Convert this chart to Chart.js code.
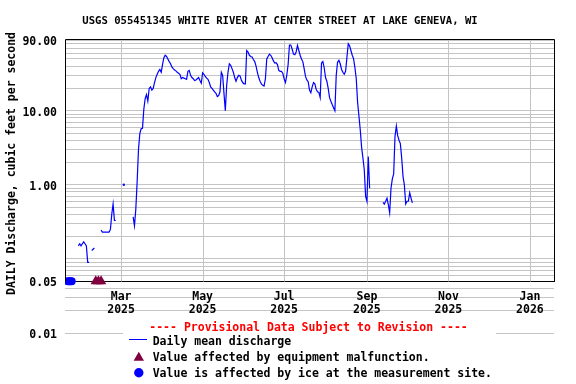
<!DOCTYPE html>
<html>
<head>
<meta charset="utf-8">
<script src="https://cdn.jsdelivr.net/npm/chart.js@4.4.0/dist/chart.umd.min.js"></script>
<style>
  html, body { margin: 0; padding: 0; background: #fff; }
  #wrap { width: 576px; height: 384px; }
</style>
</head>
<body>
<div id="wrap"><canvas id="chart" width="576" height="384"></canvas></div>
<script>
// Texts
const chartTitle = 'USGS 055451345 WHITE RIVER AT CENTER STREET AT LAKE GENEVA, WI';
const yAxisTitle = 'DAILY Discharge, cubic feet per second';
const provisionalNote = '---- Provisional Data Subject to Revision ----';
const legendLabels = ['Daily mean discharge', 'Value affected by equipment malfunction.', 'Value is affected by ice at the measurement site.'];

// X axis (dates)
const xStart = '2025-01-18';
const xEnd = '2026-01-19';
const tickDates = ['2025-03-01', '2025-05-01', '2025-07-01', '2025-09-01', '2025-11-01', '2026-01-01'];
const tickLabels = [['Mar', '2025'], ['May', '2025'], ['Jul', '2025'], ['Sep', '2025'], ['Nov', '2025'], ['Jan', '2026']];

// Y axis (log)
const yMin = 0.01;
const yMax = 90;
const yGrid = [0.01, 0.02, 0.03, 0.04, 0.05, 0.06, 0.07, 0.08, 0.09,
               0.1, 0.2, 0.3, 0.4, 0.5, 0.6, 0.7, 0.8, 0.9,
               1, 2, 3, 4, 5, 6, 7, 8, 9,
               10, 20, 30, 40, 50, 60, 70, 80, 90];
const yLabeled = [90, 10, 1, 0.05, 0.01];
const yLabelText = ['90.00', '10.00', '1.00', '0.05', '0.01'];

// Daily mean discharge, one value per day starting at firstDate (null = no data)
const firstDate = '2025-01-28';
const discharge = [
  0.15, 0.16, 0.15, 0.16, 0.17, 0.16, 0.15, 0.09, 0.09, null, 0.13, 0.135, 0.14,
  null, null, null, null,
  0.245, 0.23, 0.23, 0.23, 0.23, 0.23, 0.23, 0.25, 0.40, 0.55, 0.33, 0.33,
  null, null, null, null, null,
  1.0,
  null, null, null, null, null, null,
  0.37, 0.28, 0.47, 1.1, 3.0, 4.9, 5.7, 5.8, 10.5, 14.5, 16.5, 13.5,
  20, 21, 19, 20, 24, 28, 31, 34, 36, 33,
  42, 52, 56, 54, 50, 46, 43, 39, 37, 35.5,
  34.5, 33, 32, 31, 27, 28, 27.5, 27, 26.5, 34,
  35, 30, 28, 27, 25.5, 26, 27, 28, 25.5, 23.5,
  32.5, 31, 29, 27.5, 26.5, 24, 21, 20, 19, 18,
  17.2, 15.5, 16, 18, 33, 30, 17, 10, 22, 33,
  43, 41, 37, 33, 28, 25, 28, 30, 29.5, 26,
  24, 23, 23, 65, 62, 56, 54, 53, 49, 46,
  40, 33, 28, 25, 23, 22, 21.5, 27, 50, 54,
  58, 56, 52, 47, 44, 44.5, 42, 35, 34, 34,
  32, 27, 24, 30, 42, 77, 77, 68, 58, 57,
  62, 76, 65, 56, 50, 46, 37, 29, 26, 24.6,
  19, 17.5, 21, 24, 23, 19.5, 18, 17.7, 15, 44,
  46, 38, 28, 25, 20, 15, 13.4, 12.1, 11, 10,
  30, 45, 48, 43, 36, 33, 31, 34, 52, 80,
  75, 65, 56, 50, 38, 27, 13, 8.5, 5.5, 3.2,
  2.3, 1.6, 0.7, 0.6, 2.4, 0.9,
  null, null, null, null, null, null, null, null, null,
  0.58, 0.55, 0.6, 0.66, 0.54, 0.42, 0.9, 1.2, 1.4, 4.5,
  6.2, 4.6, 4.0, 3.6, 2.3, 1.3, 1.0, 0.55, 0.6, 0.6,
  0.78, 0.66, 0.57
];

// Flagged days, drawn at the bottom of the plot
const flagValue = 0.05;
const iceDates = ['2025-01-20', '2025-01-21', '2025-01-22', '2025-01-23'];
const equipmentDates = ['2025-02-10', '2025-02-12', '2025-02-14'];

const lineColor = '#0000ff';
const equipColor = '#800040';
const gridColor = '#c4c4c4';
const fontFamily = '"DejaVu Sans Mono", "Liberation Mono", monospace';

// day number counted from 2025-01-01
const dayOf = s => (Date.parse(s) - Date.parse('2025-01-01')) / 864e5;
const day0 = dayOf(firstDate);

const flowPoints = discharge.map((v, i) => ({ x: day0 + i, y: v }));
const icePoints = iceDates.map(d => ({ x: dayOf(d), y: flagValue }));
const equipPoints = equipmentDates.map(d => ({ x: dayOf(d), y: flagValue }));

// Title, frame, vertical grid, legend
const decorPlugin = {
  id: 'decor',
  beforeDatasetsDraw(chart) {
    const { ctx, scales: { x, y }, chartArea } = chart;
    const yAxis = Math.round(y.getPixelForValue(flagValue)) + 0.5;
    ctx.save();
    ctx.strokeStyle = gridColor;
    ctx.lineWidth = 1;
    x.ticks.forEach(t => {
      const px = Math.round(x.getPixelForValue(t.value)) + 0.5;
      ctx.beginPath();
      ctx.moveTo(px, chartArea.top);
      ctx.lineTo(px, yAxis);
      ctx.stroke();
    });
    ctx.restore();
  },
  afterDatasetsDraw(chart) {
    const { ctx, scales: { y }, chartArea } = chart;
    const yAxis = Math.round(y.getPixelForValue(flagValue)) + 0.5;
    const top = chartArea.top - 0.5;
    const left = chartArea.left + 0.5;
    const right = chartArea.right + 0.5;
    ctx.save();
    ctx.strokeStyle = '#000';
    ctx.lineWidth = 1;
    ctx.beginPath();
    ctx.moveTo(left, yAxis);
    ctx.lineTo(left, top);
    ctx.lineTo(right, top);
    ctx.lineTo(right, yAxis);
    ctx.stroke();
    ctx.restore();
  },
  afterDraw(chart) {
    const { ctx } = chart;
    ctx.save();
    ctx.fillStyle = '#000';
    ctx.textBaseline = 'middle';

    // title
    ctx.font = 'bold 10.6px ' + fontFamily;
    ctx.textAlign = 'center';
    ctx.fillText(chartTitle, 280, 21.5);

    // y title
    ctx.save();
    ctx.translate(12.5, 163.5);
    ctx.rotate(-Math.PI / 2);
    ctx.font = 'bold 11.5px ' + fontFamily;
    ctx.fillText(yAxisTitle, 0, 0);
    ctx.restore();

    // legend box
    ctx.fillStyle = '#fff';
    ctx.fillRect(123, 317, 373, 67);

    ctx.font = 'bold 11.5px ' + fontFamily;
    ctx.fillStyle = '#ff0000';
    ctx.textAlign = 'center';
    ctx.fillText(provisionalNote, 308.5, 328);

    ctx.strokeStyle = lineColor;
    ctx.lineWidth = 1;
    ctx.beginPath();
    ctx.moveTo(129, 339.5);
    ctx.lineTo(147, 339.5);
    ctx.stroke();

    ctx.fillStyle = equipColor;
    Chart.helpers.drawPoint(ctx, { pointStyle: 'triangle', radius: 6, rotation: 0, borderWidth: 0 }, 138.8, 357.7);
    ctx.fillStyle = lineColor;
    Chart.helpers.drawPoint(ctx, { pointStyle: 'circle', radius: 4.7, rotation: 0, borderWidth: 0 }, 138.8, 372.7);

    ctx.fillStyle = '#000';
    ctx.textAlign = 'left';
    ctx.fillText(legendLabels[0], 152.7, 342);
    ctx.fillText(legendLabels[1], 152.7, 358);
    ctx.fillText(legendLabels[2], 152.7, 374);
    ctx.restore();
  }
};

new Chart(document.getElementById('chart'), {
  type: 'line',
  data: {
    datasets: [
      {
        label: 'Daily mean discharge',
        data: flowPoints,
        borderColor: lineColor,
        backgroundColor: lineColor,
        borderWidth: 1.2,
        tension: 0,
        spanGaps: false,
        pointRadius: ctx => {
          const i = ctx.dataIndex;
          const d = discharge;
          return (d[i] != null && d[i - 1] == null && d[i + 1] == null) ? 1.2 : 0;
        },
        pointBorderWidth: 0
      },
      {
        label: 'Value affected by equipment malfunction.',
        data: equipPoints,
        showLine: false,
        pointStyle: 'triangle',
        pointRadius: 6,
        pointBorderWidth: 0,
        backgroundColor: equipColor,
        borderColor: equipColor
      },
      {
        label: 'Value is affected by ice at the measurement site.',
        data: icePoints,
        showLine: false,
        pointStyle: 'circle',
        pointRadius: 4,
        pointBorderWidth: 0,
        backgroundColor: lineColor,
        borderColor: lineColor
      }
    ]
  },
  options: {
    responsive: false,
    animation: false,
    events: [],
    layout: { padding: { left: 0, top: 40, right: 22, bottom: 51 } },
    plugins: {
      legend: { display: false },
      tooltip: { enabled: false },
      title: { display: false }
    },
    scales: {
      x: {
        type: 'linear',
        min: dayOf(xStart),
        max: dayOf(xEnd),
        position: { y: flagValue },
        afterBuildTicks: s => { s.ticks = tickDates.map(d => ({ value: dayOf(d) })); },
        ticks: {
          autoSkip: false,
          maxRotation: 0,
          padding: 9.5,
          color: '#000',
          font: { family: fontFamily, size: 11.5, weight: 'bold', lineHeight: 1.1 },
          callback: (v, i) => tickLabels[i]
        },
        grid: { drawOnChartArea: false, drawTicks: false },
        border: { display: true, color: '#000', width: 1 }
      },
      y: {
        type: 'logarithmic',
        position: 'left',
        min: yMin,
        max: yMax,
        afterFit: s => { s.width = 65; },
        afterBuildTicks: s => { s.ticks = yGrid.map(v => ({ value: v })); },
        ticks: {
          autoSkip: false,
          padding: 8,
          labelOffset: 2,
          color: '#000',
          font: { family: fontFamily, size: 11.5, weight: 'bold' },
          callback: v => {
            const k = yLabeled.findIndex(t => Math.abs(t - v) < 1e-9);
            return k >= 0 ? yLabelText[k] : '';
          }
        },
        grid: { color: gridColor, lineWidth: 1, drawTicks: false },
        border: { display: false }
      }
    }
  },
  plugins: [decorPlugin]
});
</script>
</body>
</html>
